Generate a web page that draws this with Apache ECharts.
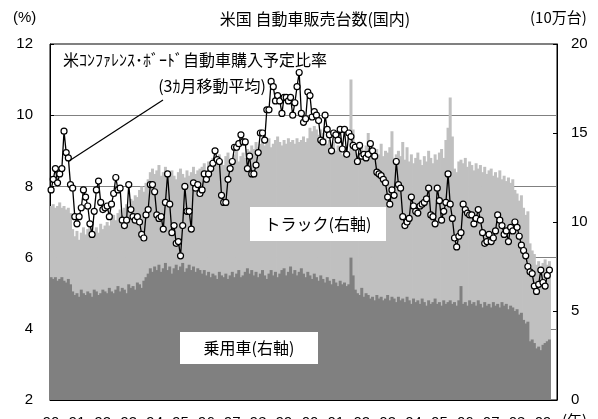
<!DOCTYPE html>
<html>
<head>
<meta charset="utf-8">
<script src="https://cdn.jsdelivr.net/npm/echarts@6/dist/echarts.min.js"></script>
<style>
  html, body { margin: 0; padding: 0; background: #fff; }
  #chart { width: 598px; height: 419px; }
</style>
</head>
<body>
<div id="chart"></div>
<script>
// year labels (cut off at the bottom edge in the original)
const years = ['90','91','92','93','94','95','96','97','98','99','00','01','02','03','04','05','06','07','08','09']

// 乗用車 (10万台, right axis)
const carSales = [
  6.9,6.8,6.9,6.7,6.8,6.9,6.7,6.6,6.8,6.5,
  6.1,5.9,6.0,5.8,6.2,6.0,5.9,6.1,6.0,5.8,6.2,6.1,5.9,6.0,6.2,6.1,
  6.0,6.3,6.1,6.0,6.2,6.4,6.1,6.3,6.2,6.0,6.5,6.3,6.4,6.2,6.6,6.5,6.3,6.7,6.9,7.1,
  7.4,7.2,7.5,7.3,7.6,7.2,7.4,7.7,7.3,7.5,7.1,7.4,7.6,7.3,7.5,7.7,7.2,7.4,7.6,7.3,7.5,7.2,7.4,7.3,
  7.1,7.3,7.0,7.2,6.9,7.1,7.0,6.8,7.2,7.0,6.9,7.1,6.8,7.0,7.2,6.9,7.1,7.3,6.9,7.0,7.2,7.4,
  7.1,7.3,7.0,7.2,6.9,7.1,7.3,7.0,6.8,7.1,7.3,7.0,7.2,6.9,7.1,7.3,7.4,7.0,7.2,7.5,7.1,7.3,7.0,7.2,
  7.4,7.1,6.9,7.2,
  7.0,6.8,7.1,6.9,6.7,7.0,6.8,
  6.6,6.9,6.7,6.5,6.8,6.6,6.4,6.7,6.5,6.6,6.4,6.5,
  8.0,7.0,
  6.2,6.0,5.9,6.3,5.8,6.0,5.9,5.7,5.8,5.6,5.9,5.7,5.8,5.6,5.7,5.9,5.6,5.8,5.7,5.5,5.8,5.6,
  5.7,5.5,5.8,5.6,5.4,5.7,5.5,5.6,5.4,5.7,5.5,5.3,5.6,5.4,5.5,5.7,5.4,5.5,5.3,5.6,5.4,5.5,
  5.6,5.4,
  5.5,5.3,5.6,6.4,5.4,5.5,5.3,5.6,5.4,5.5,5.3,5.6,5.4,5.2,5.5,5.3,5.4,5.2,5.5,5.3,5.4,5.2,5.5,5.3,5.4,5.1,5.3,5.2,
  5.0,5.1,4.8,4.9,4.5,4.3,4.4,
  3.3,3.4,3.2,2.9,3.0,2.8,3.1,3.2,3.3,3.4
]

// 乗用車+トラック合計 (10万台, right axis)
const totalSales = [
  10.9,11.0,10.8,10.9,11.1,10.8,10.9,10.7,10.8,10.5,
  9.6,9.2,9.5,9.0,9.4,9.7,9.3,9.6,9.8,9.2,9.5,9.7,9.4,9.9,9.6,9.8,
  10.0,9.8,10.2,10.4,10.1,10.5,10.7,10.4,10.8,11.0,10.9,11.3,11.2,11.5,11.4,11.8,12.0,11.7,12.2,12.4,
  12.8,13.0,12.7,12.9,13.2,12.6,12.8,13.1,12.5,12.7,12.9,12.6,12.4,12.8,13.0,12.7,12.5,12.9,12.6,12.8,13.1,12.7,12.9,13.0,
  13.1,13.3,12.9,13.4,13.2,13.6,13.3,13.5,13.8,13.4,13.2,13.7,13.9,13.5,13.6,13.8,14.0,13.4,13.7,13.9,13.6,14.1,
  14.0,14.3,14.1,14.5,14.2,14.4,14.6,14.3,14.5,14.7,14.2,14.4,14.6,14.8,14.5,14.3,14.6,14.4,14.7,14.5,14.6,14.4,14.7,14.5,
  14.6,14.8,14.5,14.7,
  15.3,15.1,15.4,15.2,14.9,15.2,15.0,
  14.7,14.4,14.6,14.2,14.5,14.0,14.3,14.1,13.8,14.2,13.9,13.7,
  18.0,15.2,
  14.0,13.6,13.9,14.2,13.8,14.3,15.0,13.7,13.9,13.6,14.1,13.8,14.4,13.7,14.0,13.9,14.2,15.1,13.6,13.8,14.0,13.7,
  14.5,13.5,14.2,13.4,13.8,13.3,13.6,13.9,13.5,13.2,13.7,13.4,14.0,13.6,13.3,13.8,13.5,13.9,14.1,13.6,14.6,15.3,
  17.0,14.8,
  13.0,12.8,13.4,13.5,13.3,13.6,13.1,13.4,13.2,12.9,13.3,13.0,13.2,12.8,13.1,12.7,12.9,13.0,12.6,12.8,12.5,12.9,12.4,12.6,12.3,12.5,12.2,12.4,
  11.8,11.6,11.2,11.5,10.8,10.4,10.6,
  8.8,8.4,8.2,7.6,7.8,7.5,7.7,7.9,7.6,7.8
]

// 自動車購入予定比率 3ヵ月移動平均 (%, left axis)
const buyPlans = [
  7.9,8.2,8.5,8.1,8.35,8.5,9.55,8.95,8.8,8.05,7.95,7.15,6.95,7.15,7.4,7.9,7.7,7.45,6.95,6.65,
  7.3,7.9,8.15,7.55,7.35,7.4,7.45,7.15,7.5,7.8,8.25,7.9,7.95,7.05,6.9,7.05,8.05,7.35,7.15,7.05,
  7.15,7.0,6.65,6.55,7.2,7.35,8.05,8.05,7.85,7.2,7.1,7.15,6.8,7.55,8.35,7.5,6.7,6.9,6.4,6.45,
  6.05,6.9,8.0,7.3,7.3,6.8,8.1,7.95,8.05,7.8,7.9,8.35,8.2,8.35,8.5,8.65,9.0,8.75,8.7,7.75,
  7.55,7.55,8.2,8.5,8.7,9.1,9.1,9.2,9.45,9.25,9.25,8.5,8.85,8.35,8.35,8.6,8.95,9.5,9.5,9.3,
  10.15,10.15,10.95,10.8,10.4,10.55,10.4,10.05,10.5,10.5,10.4,10.5,10.0,10.35,10.8,11.2,
  10.05,9.8,9.9,10.65,10.55,9.95,10.1,10.0,9.85,9.3,9.25,10.0,9.6,9.45,9.0,9.5,9.45,9.3,9.6,9.05,
  9.6,8.9,9.5,9.4,9.15,9.1,8.7,9.15,8.85,8.9,8.8,8.9,9.2,9.0,8.85,8.4,8.35,8.3,8.2,8.1,
  7.7,7.5,7.9,7.75,8.7,8.05,7.95,7.15,6.9,7.0,7.1,7.7,7.45,7.3,7.25,7.45,7.5,7.55,7.65,7.95,
  7.2,7.15,6.95,7.95,7.6,7.05,7.3,7.55,8.35,7.5,7.1,6.55,6.3,6.6,6.7,7.5,7.35,7.25,7.2,7.2,
  6.95,7.1,7.35,7.05,6.7,6.4,6.45,6.65,6.45,6.55,6.75,7.2,7.05,6.9,6.65,6.75,6.45,6.85,6.75,7.0,
  6.85,6.6,6.35,6.2,6.05,5.75,5.6,5.55,5.2,5.05,5.25,5.65,5.3,5.2,5.5,5.65
]

const nCats = 235  // a few empty slots leave the small gap at the right edge
const cats = Array.from({ length: nCats }, (_, i) => (i % 12 === 0 && i / 12 < years.length) ? years[i / 12] : '')

const jp = '"Noto Sans CJK JP", sans-serif'
const num = '"Liberation Sans", Arial, sans-serif'

const chart = echarts.init(document.getElementById('chart'), null, { renderer: 'canvas' })

chart.setOption({
  animation: false,
  backgroundColor: '#fff',
  grid: {
    left: 50, right: 41, top: 44, bottom: 19,
    outerBoundsMode: 'none', containLabel: false,
    show: true, borderColor: '#000', borderWidth: 1
  },
  xAxis: {
    type: 'category',
    data: cats,
    boundaryGap: true,
    axisLine: { lineStyle: { color: '#000', width: 1 } },
    axisTick: {
      inside: true, length: 4, lineStyle: { color: '#000' },
      interval: (i) => i > 0 && i % 12 === 0
    },
    axisLabel: { interval: 0, margin: 15, color: '#000', fontSize: 15, fontFamily: num },
    splitLine: { show: false }
  },
  yAxis: [
    {
      type: 'value', min: 2, max: 12, interval: 2, position: 'left',
      axisLine: { show: true, lineStyle: { color: '#000' } },
      axisTick: { show: true, inside: true, length: 4, lineStyle: { color: '#000' } },
      axisLabel: { color: '#000', fontSize: 15, fontFamily: num, margin: 17 },
      splitLine: { show: true, lineStyle: { color: '#808080', width: 1 } }
    },
    {
      type: 'value', min: 0, max: 20, interval: 5, position: 'right',
      axisLine: { show: true, lineStyle: { color: '#000' } },
      axisTick: { show: true, inside: true, length: 4, lineStyle: { color: '#000' } },
      axisLabel: { color: '#000', fontSize: 15, fontFamily: num, margin: 14 },
      splitLine: { show: false }
    }
  ],
  series: [
    {
      name: 'トラック', type: 'bar', yAxisIndex: 1,
      data: totalSales,
      barWidth: 3, barGap: '-100%',
      itemStyle: { color: '#c0c0c0' },
      z: 1
    },
    {
      name: '乗用車', type: 'bar', yAxisIndex: 1,
      data: carSales,
      barWidth: 3, barGap: '-100%',
      itemStyle: { color: '#808080' },
      z: 2
    },
    {
      name: '購入予定比率', type: 'line', yAxisIndex: 0,
      data: buyPlans,
      symbol: 'circle', symbolSize: 6, showAllSymbol: true,
      lineStyle: { color: '#000', width: 1.3 },
      itemStyle: { color: '#fff', borderColor: '#000', borderWidth: 1.2 },
      z: 5
    }
  ],
  graphic: [
    { type: 'text', left: 13, top: 10, style: { text: '(%)', font: '15px ' + num, fill: '#000' } },
    { type: 'text', left: 530, top: 10, style: { text: '(10万台)', font: '15px ' + jp, fill: '#000' } },
    { type: 'text', x: 315, y: 19, style: { text: '米国 自動車販売台数(国内)', font: '16px ' + jp, fill: '#000', align: 'center', verticalAlign: 'middle' } },
    { type: 'text', left: 562, top: 413, style: { text: '(年)', font: '15px ' + jp, fill: '#000' } },
    // annotation for the line
    { type: 'text', x: 63, y: 60, z: 10, style: { text: '米ｺﾝﾌｧﾚﾝｽ･ﾎﾞｰﾄﾞ自動車購入予定比率', font: '16px ' + jp, fill: '#000', verticalAlign: 'middle' } },
    { type: 'text', x: 212, y: 86, z: 10, style: { text: '(3ｶ月移動平均)', font: '16px ' + jp, fill: '#000', align: 'center', verticalAlign: 'middle' } },
    { type: 'line', z: 10, shape: { x1: 163, y1: 100, x2: 69, y2: 161 }, style: { stroke: '#000', lineWidth: 1.2 } },
    // series labels
    { type: 'rect', z: 10, shape: { x: 250, y: 207, width: 136, height: 34 }, style: { fill: '#fff' } },
    { type: 'text', z: 11, x: 318, y: 224, style: { text: 'トラック(右軸)', font: '16px ' + jp, fill: '#000', align: 'center', verticalAlign: 'middle' } },
    { type: 'rect', z: 10, shape: { x: 180, y: 332, width: 138, height: 32 }, style: { fill: '#fff' } },
    { type: 'text', z: 11, x: 249, y: 348, style: { text: '乗用車(右軸)', font: '16px ' + jp, fill: '#000', align: 'center', verticalAlign: 'middle' } }
  ]
})
</script>
</body>
</html>
